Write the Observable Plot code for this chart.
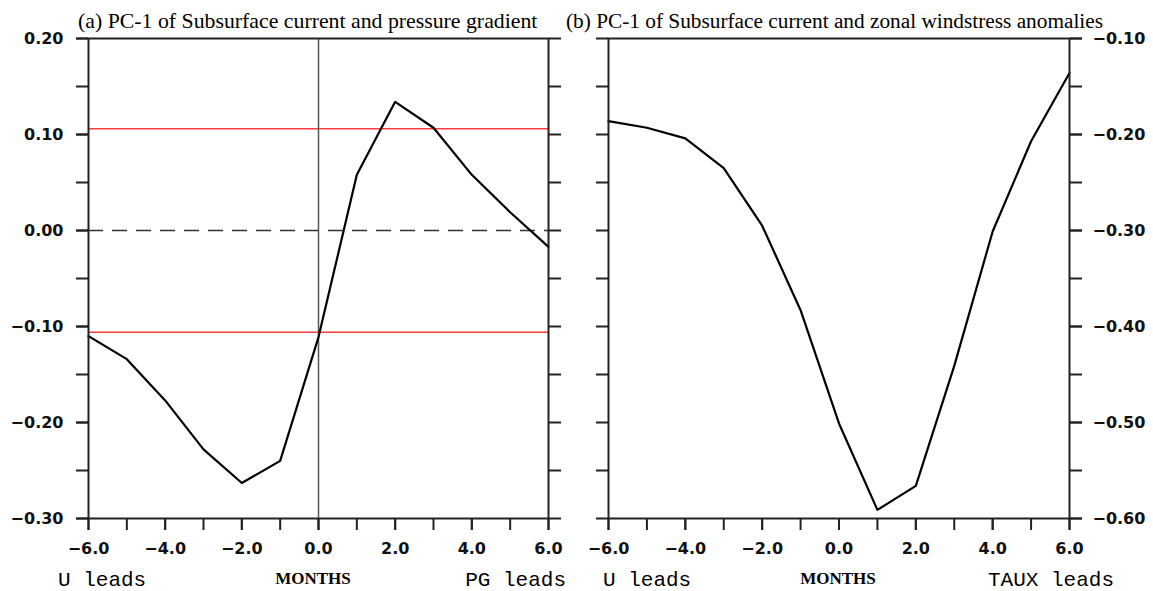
<!DOCTYPE html>
<html><head><meta charset="utf-8">
<script src="https://cdn.jsdelivr.net/npm/d3@7"></script>
<script src="https://cdn.jsdelivr.net/npm/@observablehq/plot@0.6"></script>
<style>
body{margin:0;background:#fff;}
#wrap{position:relative;width:1153px;height:591px;overflow:hidden;background:#fff;}
#wrap > svg{position:absolute;top:0;}
</style></head><body><div id="wrap"></div>
<script>
// ---- data ----
const months = [-6, -5, -4, -3, -2, -1, 0, 1, 2, 3, 4, 5, 6];
const pcPG   = [-0.110, -0.134, -0.177, -0.228, -0.263, -0.240, -0.111, 0.058, 0.134, 0.107, 0.058, 0.019, -0.017];
const pcTAUX = [-0.186, -0.193, -0.204, -0.235, -0.295, -0.383, -0.501, -0.591, -0.566, -0.441, -0.301, -0.207, -0.136];
const sigLevels = [0.106, -0.106];
const zeroLine = [0];
const xMinorTicks = [-6, -5, -4, -3, -2, -1, 0, 1, 2, 3, 4, 5, 6];
const xMajorTicks = [-6, -4, -2, 0, 2, 4, 6];
const yMinorA = [-0.30, -0.25, -0.20, -0.15, -0.10, -0.05, 0.00, 0.05, 0.10, 0.15, 0.20];
const yMajorA = [-0.30, -0.20, -0.10, 0.00, 0.10, 0.20];
const yMinorB = [-0.60, -0.55, -0.50, -0.45, -0.40, -0.35, -0.30, -0.25, -0.20, -0.15, -0.10];
const yMajorB = [-0.60, -0.50, -0.40, -0.30, -0.20, -0.10];
const titleA = "(a) PC-1 of Subsurface current and pressure gradient";
const titleB = "(b) PC-1 of Subsurface current and zonal windstress anomalies";
const xLabel = "MONTHS";
const leftLeadA = "U leads", rightLeadA = "PG leads";
const leftLeadB = "U leads", rightLeadB = "TAUX leads";

const rowsA = months.map((m, i) => ({month: m, v: pcPG[i]}));
const rowsB = months.map((m, i) => ({month: m, v: pcTAUX[i]}));

const fY = d3.format(".2f");
const fX = d3.format(".1f");
const none = () => "";
const axStyle = {stroke: "#222", strokeWidth: 2, tickSize: 12, label: null};

const style = {fontFamily: "'DejaVu Sans', Arial, sans-serif", fontSize: "16px", fontWeight: "bold",
  color: "#111", background: "transparent", overflow: "visible"};

const wrap = document.getElementById("wrap");

const plotA = Plot.plot({
  width: 576, height: 591,
  marginLeft: 88, marginRight: 28, marginTop: 38, marginBottom: 73,
  x: {domain: [-6, 6], label: null},
  y: {domain: [-0.3, 0.2], label: null},
  style,
  marks: [
    Plot.ruleY(sigLevels, {stroke: "#ff3b3b", strokeWidth: 1.6}),
    Plot.ruleY(zeroLine, {stroke: "#333", strokeWidth: 1.3, strokeDasharray: "15,9"}),
    Plot.ruleX(zeroLine, {stroke: "#555", strokeWidth: 1.5}),
    Plot.line(rowsA, {x: "month", y: "v", stroke: "#000", strokeWidth: 2.2}),
    Plot.frame({stroke: "#222", strokeWidth: 2}),
    Plot.axisY({...axStyle, anchor: "left", ticks: yMinorA, tickFormat: none}),
    Plot.axisY({...axStyle, anchor: "left", ticks: yMajorA, tickFormat: fY, tickPadding: 13}),
    Plot.axisY({...axStyle, anchor: "right", ticks: yMinorA, tickFormat: none}),
    Plot.axisX({...axStyle, anchor: "bottom", ticks: xMinorTicks, tickFormat: none}),
    Plot.axisX({...axStyle, anchor: "bottom", ticks: xMajorTicks, tickFormat: fX, tickPadding: 12})
  ]
});
plotA.style.left = "0px";
wrap.appendChild(plotA);

const plotB = Plot.plot({
  width: 577, height: 591,
  marginLeft: 32, marginRight: 84, marginTop: 38, marginBottom: 73,
  x: {domain: [-6, 6], label: null},
  y: {domain: [-0.6, -0.1], label: null},
  style,
  marks: [
    Plot.line(rowsB, {x: "month", y: "v", stroke: "#000", strokeWidth: 2.2}),
    Plot.frame({stroke: "#222", strokeWidth: 2}),
    Plot.axisY({...axStyle, anchor: "left", ticks: yMinorB, tickFormat: none}),
    Plot.axisY({...axStyle, anchor: "right", ticks: yMinorB, tickFormat: none}),
    Plot.axisY({...axStyle, anchor: "right", ticks: yMajorB, tickFormat: fY, tickPadding: 11}),
    Plot.axisX({...axStyle, anchor: "bottom", ticks: xMinorTicks, tickFormat: none}),
    Plot.axisX({...axStyle, anchor: "bottom", ticks: xMajorTicks, tickFormat: fX, tickPadding: 12})
  ]
});
plotB.style.left = "576px";
wrap.appendChild(plotB);

// ---- text annotations (titles and lead labels) ----
const ov = d3.select(wrap).append("svg")
  .attr("width", 1153).attr("height", 591)
  .style("left", "0px").style("pointer-events", "none");
const serif = "'Liberation Serif', 'Times New Roman', serif";
const mono = "'Liberation Mono', 'Courier New', monospace";
const texts = [
  {t: titleA, x: 78, y: 28, a: "start", f: serif, s: 21.8, w: "normal"},
  {t: titleB, x: 566, y: 28, a: "start", f: serif, s: 21.3, w: "normal"},
  {t: leftLeadA, x: 58, y: 586, a: "start", f: mono, s: 21, w: "normal"},
  {t: rightLeadA, x: 566, y: 586, a: "end", f: mono, s: 21, w: "normal"},
  {t: xLabel, x: 313, y: 584, a: "middle", f: serif, s: 17, w: "bold"},
  {t: leftLeadB, x: 603, y: 586, a: "start", f: mono, s: 21, w: "normal"},
  {t: rightLeadB, x: 1114, y: 586, a: "end", f: mono, s: 21, w: "normal"},
  {t: xLabel, x: 838, y: 584, a: "middle", f: serif, s: 17, w: "bold"}
];
ov.selectAll("text").data(texts).join("text")
  .attr("x", d => d.x).attr("y", d => d.y)
  .attr("text-anchor", d => d.a)
  .attr("font-family", d => d.f).attr("font-size", d => d.s).attr("font-weight", d => d.w)
  .attr("fill", "#000")
  .text(d => d.t);
</script></body></html>
